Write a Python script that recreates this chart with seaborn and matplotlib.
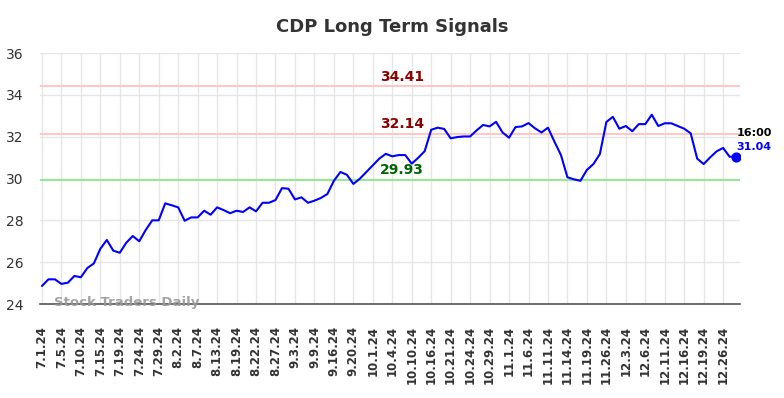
import matplotlib
matplotlib.use("Agg")
import matplotlib.pyplot as plt
import seaborn as sns
import pandas as pd
import numpy as np

title = "CDP Long Term Signals"
prices = [
    24.86, 25.18, 25.18, 24.96, 25.02, 25.34, 25.28, 25.72, 25.94, 26.64,
    27.06, 26.55, 26.45, 26.93, 27.25, 27.00, 27.54, 28.00, 28.00, 28.81,
    28.72, 28.62, 27.98, 28.14, 28.14, 28.46, 28.27, 28.62, 28.49, 28.34,
    28.46, 28.40, 28.62, 28.43, 28.84, 28.84, 28.97, 29.54, 29.51, 29.00,
    29.10, 28.84, 28.94, 29.07, 29.26, 29.89, 30.31, 30.18, 29.74, 29.99,
    30.31, 30.63, 30.95, 31.18, 31.06, 31.12, 31.12, 30.71, 30.99, 31.31,
    32.33, 32.43, 32.37, 31.92, 31.98, 32.01, 32.01, 32.30, 32.56, 32.49,
    32.71, 32.20, 31.95, 32.46, 32.49, 32.65, 32.40, 32.20, 32.43, 31.76,
    31.12, 30.06, 29.96, 29.89, 30.41, 30.69, 31.17, 32.70, 32.95, 32.38,
    32.51, 32.26, 32.60, 32.60, 33.05, 32.51, 32.64, 32.64, 32.51, 32.38,
    32.16, 30.95, 30.69, 31.01, 31.30, 31.46, 31.04, 31.04,
]
tick_labels = [
    "7.1.24", "7.5.24", "7.10.24", "7.15.24", "7.19.24", "7.24.24", "7.29.24",
    "8.2.24", "8.7.24", "8.13.24", "8.19.24", "8.22.24", "8.27.24", "9.3.24",
    "9.9.24", "9.16.24", "9.20.24", "10.1.24", "10.4.24", "10.10.24",
    "10.16.24", "10.21.24", "10.24.24", "10.29.24", "11.1.24", "11.6.24",
    "11.11.24", "11.14.24", "11.19.24", "11.26.24", "12.3.24", "12.6.24",
    "12.11.24", "12.16.24", "12.19.24", "12.26.24",
]
tick_step = 3
resistance_high = 34.41
resistance = 32.14
support = 29.93
last_time = "16:00"
last_value = 31.04
watermark = "Stock Traders Daily"

df = pd.DataFrame({"idx": np.arange(len(prices)), "price": prices})

sns.set_style("whitegrid")
plt.rcParams["font.family"] = ["DejaVu Sans"]

fig = plt.figure(figsize=(7.84, 3.98), dpi=100)
ax = fig.add_axes([40 / 784, 1 - 304 / 398, 700 / 784, 251 / 398])

ax.axhline(resistance_high, color="#ffc8c8", lw=1.5, zorder=1)
ax.axhline(resistance, color="#ffc8c8", lw=1.5, zorder=1)
ax.axhline(support, color="#99e699", lw=1.5, zorder=1)

sns.lineplot(data=df, x="idx", y="price", ax=ax, color="#0000ff", lw=1.5, zorder=3)
ax.scatter([df["idx"].iloc[-1]], [last_value], color="#0000ff", s=40, zorder=4)

ax.set_xlim(-0.3, len(prices) - 1 + 0.6)
ax.set_ylim(24, 36)
ax.set_yticks(np.arange(24, 37, 2))
ax.set_xticks(np.arange(len(tick_labels)) * tick_step)
ax.set_xticklabels(tick_labels, rotation=90, fontsize=8.5, fontweight="bold", color="#333333")
ax.tick_params(axis="y", labelsize=10, colors="#333333", length=0, pad=12)
ax.tick_params(axis="x", length=0, pad=16)
ax.set_xlabel("")
ax.set_ylabel("")
ax.grid(True, color="#e6e6e6", lw=1)
for s in ["top", "right", "left"]:
    ax.spines[s].set_visible(False)
ax.spines["bottom"].set_color("#555555")
ax.spines["bottom"].set_linewidth(1.2)

xmid = 55.5
ax.text(xmid, resistance_high + 0.12, f"{resistance_high:.2f}", color="#8b0000",
        fontsize=10, fontweight="bold", ha="center", va="bottom")
ax.text(xmid, resistance + 0.12, f"{resistance:.2f}", color="#8b0000",
        fontsize=10, fontweight="bold", ha="center", va="bottom")
ax.text(xmid, support + 0.12, f"{support:.2f}", color="#006400",
        fontsize=10, fontweight="bold", ha="center", va="bottom")

xl = len(prices) - 1
ax.text(xl + 0.1, last_value + 0.9, last_time, color="black", fontsize=8,
        fontweight="bold", ha="left", va="bottom", clip_on=False)
ax.text(xl + 0.1, last_value + 0.25, f"{last_value:.2f}", color="#0000ff", fontsize=8,
        fontweight="bold", ha="left", va="bottom", clip_on=False)

ax.text(1.8, 24.05, watermark, color="#999999", fontsize=9.5, fontweight="bold",
        ha="left", va="center", alpha=0.9, zorder=5)

fig.text(0.5, 1 - 27 / 398, title, ha="center", va="center", fontsize=13,
         fontweight="bold", color="#333333")

fig.savefig("out.png", dpi=100)
